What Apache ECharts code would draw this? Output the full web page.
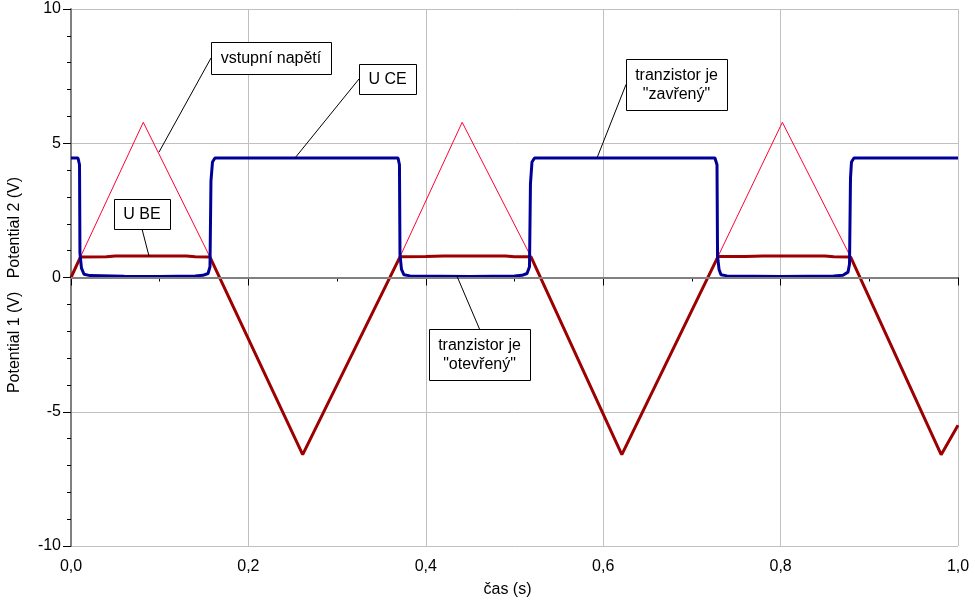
<!DOCTYPE html>
<html>
<head>
<meta charset="utf-8">
<script src="https://cdn.jsdelivr.net/npm/echarts@6/dist/echarts.min.js"></script>
<style>
  html, body { margin: 0; padding: 0; background: #fff; }
  #charts { width: 975px; height: 600px; }
</style>
</head>
<body>
<div id="charts"></div>
<script>
// time (s), voltage (V)
const inputVoltage = [
  [0, 0], [0.0106, 0.76], [0.0815, 5.78], [0.1567, 0.76], [0.2612, -6.6],
  [0.3709, 0.77], [0.441, 5.78], [0.5186, 0.77], [0.621, -6.6],
  [0.7294, 0.78], [0.802, 5.78], [0.879, 0.76], [0.981, -6.6], [1.0, -5.5]
]
const uBE = [
  [0, 0], [0.0106, 0.76], [0.04, 0.77], [0.05, 0.8], [0.13, 0.8], [0.14, 0.77], [0.1567, 0.76],
  [0.2612, -6.6], [0.3709, 0.77], [0.40, 0.78], [0.42, 0.8], [0.49, 0.8], [0.5, 0.77], [0.5186, 0.77],
  [0.621, -6.6], [0.7294, 0.78], [0.76, 0.78], [0.78, 0.8], [0.85, 0.8], [0.86, 0.77], [0.879, 0.76],
  [0.981, -6.6], [1.0, -5.5]
]
const uCE = [
  [0, 4.45], [0.0079, 4.45], [0.0096, 4.2], [0.0101, 0.9], [0.0118, 0.35], [0.0147, 0.12], [0.0214, 0.07],
  [0.06, 0.05], [0.1, 0.04], [0.14, 0.06], [0.1488, 0.08], [0.1545, 0.15], [0.1567, 0.4], [0.1578, 3.6],
  [0.1595, 4.3], [0.1623, 4.45], [0.3687, 4.45], [0.3703, 4.2], [0.3709, 0.85], [0.3726, 0.3],
  [0.3754, 0.1], [0.3822, 0.06], [0.45, 0.04], [0.5, 0.06], [0.5085, 0.08], [0.5141, 0.15],
  [0.5169, 0.4], [0.518, 3.5], [0.5197, 4.3], [0.5226, 4.45], [0.726, 4.45], [0.7283, 4.2],
  [0.7289, 0.8], [0.7306, 0.3], [0.7328, 0.1], [0.7396, 0.06], [0.8, 0.04], [0.86, 0.06],
  [0.8703, 0.08], [0.876, 0.2], [0.8777, 0.5], [0.8788, 3.7], [0.8799, 4.3], [0.8827, 4.45], [1.0, 4.45]
]
// callouts: point on the trace (data coords) and the box (px)
const notes = [
  { text: 'vstupní napětí', at: [0.0992, 4.67], box: [211, 42, 120, 32], from: 'left' },
  { text: 'U CE', at: [0.2525, 4.45], box: [359, 64, 57, 30], from: 'left' },
  { text: 'tranzistor je\n"zavřený"', at: [0.593, 4.45], box: [626, 59, 101, 51], from: 'left' },
  { text: 'U BE', at: [0.088, 0.79], box: [114, 199, 56, 30], from: 'bottom' },
  { text: 'tranzistor je\n"otevřený"', at: [0.435, 0.06], box: [429, 329, 101, 51], from: 'top' }
]

const font = '"Liberation Sans", Arial, sans-serif'
const chart = echarts.init(document.getElementById('charts'))

const option = {
  animation: false,
  grid: { left: 71, right: 17, top: 9, bottom: 54, containLabel: false, outerBoundsMode: 'none' },
  xAxis: {
    type: 'value',
    min: 0,
    max: 1,
    interval: 0.2,
    name: 'čas (s)',
    nameLocation: 'middle',
    nameGap: 36,
    nameTextStyle: { fontSize: 16, fontFamily: font, color: '#000', padding: [0, 14, 0, 0] },
    axisLine: { show: true, lineStyle: { color: '#808080', width: 2 } },
    axisTick: { show: true, length: 8, lineStyle: { color: '#000' } },
    minorTick: { show: true, splitNumber: 2, length: 4, lineStyle: { color: '#000' } },
    splitLine: { show: true, lineStyle: { color: '#c0c0c0', width: 1 } },
    axisLabel: {
      fontSize: 16,
      fontFamily: font,
      color: '#000',
      margin: 13,
      formatter: v => v.toFixed(1).replace('.', ',')
    }
  },
  yAxis: {
    type: 'value',
    min: -10,
    max: 10,
    interval: 5,
    name: 'Potential 1 (V)   Potential 2 (V)',
    nameLocation: 'middle',
    nameGap: 48,
    nameTextStyle: { fontSize: 16, fontFamily: font, color: '#000', padding: [0, 15, 0, 0] },
    axisLine: { show: true, lineStyle: { color: '#808080', width: 2 } },
    axisTick: { show: true, length: 8, lineStyle: { color: '#000' } },
    minorTick: { show: true, splitNumber: 5, length: 4, lineStyle: { color: '#000' } },
    splitLine: { show: true, lineStyle: { color: '#c0c0c0', width: 1 } },
    axisLabel: { fontSize: 16, fontFamily: font, color: '#000', margin: 10 }
  },
  series: [
    {
      name: 'vstupní napětí',
      type: 'line',
      data: inputVoltage,
      showSymbol: false,
      lineStyle: { color: '#ff0033', width: 1 },
      markLine: {
        silent: true,
        symbol: 'none',
        label: { show: false },
        lineStyle: { color: '#808080', width: 2, type: 'solid' },
        data: [{ yAxis: 0 }]
      }
    },
    {
      name: 'U BE',
      type: 'line',
      data: uBE,
      showSymbol: false,
      lineStyle: { color: '#9c0000', width: 3 }
    },
    {
      name: 'U CE',
      type: 'line',
      data: uCE,
      showSymbol: false,
      lineStyle: { color: '#000099', width: 3 }
    }
  ]
}
chart.setOption(option)

const graphic = []
notes.forEach(n => {
  const [bx, by, bw, bh] = n.box
  const p = chart.convertToPixel({ xAxisIndex: 0, yAxisIndex: 0 }, n.at)
  let s
  if (n.from === 'left') s = [bx, by + bh / 2]
  else if (n.from === 'bottom') s = [bx + bw / 2, by + bh]
  else s = [bx + bw / 2, by]
  graphic.push({
    type: 'line',
    z: 100,
    shape: { x1: s[0], y1: s[1], x2: p[0], y2: p[1] },
    style: { stroke: '#000', lineWidth: 1 }
  })
  graphic.push({
    type: 'rect',
    z: 101,
    shape: { x: bx + 0.5, y: by + 0.5, width: bw, height: bh },
    style: { fill: '#fff', stroke: '#000', lineWidth: 1 }
  })
  graphic.push({
    type: 'text',
    z: 102,
    style: {
      text: n.text,
      x: bx + bw / 2,
      y: by + bh / 2 + 1,
      align: 'center',
      verticalAlign: 'middle',
      fontSize: 16,
      fontFamily: font,
      lineHeight: 19,
      fill: '#000'
    }
  })
})
chart.setOption({ graphic: graphic })
</script>
</body>
</html>
